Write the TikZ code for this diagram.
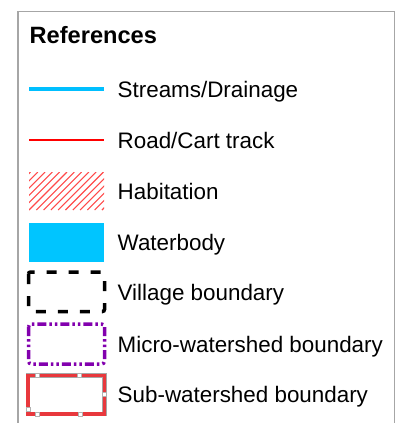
\documentclass[tikz,border=0pt]{standalone}
\usepackage{fontspec}
\setmainfont{Liberation Sans}
\definecolor{framegray}{HTML}{A6A6A6}
\definecolor{streamcol}{HTML}{00BFFF}
\definecolor{roadcol}{HTML}{FF0000}
\definecolor{hatchcol}{HTML}{FF4A4A}
\definecolor{watercol}{HTML}{00C5FF}
\definecolor{microcol}{HTML}{8200AE}
\definecolor{subcol}{HTML}{E8383D}
\begin{document}
\begin{tikzpicture}[x=1pt,y=-1pt,
  lbl/.style={anchor=base west,inner sep=0pt,font=\fontsize{22.4}{26}\selectfont},
  ttl/.style={anchor=base west,inner sep=0pt,font=\fontsize{23.6}{27}\selectfont\bfseries},
  gapmark/.style={fill=white,draw=gray!60,line width=0.4pt}]
\useasboundingbox (0,0) rectangle (403,423);
% frame
\draw[framegray,line width=1.5pt] (18,423) -- (18,11.7) -- (394.5,11.7) -- (394.5,423);
% title
\node[ttl] (title) at (29.5,43.3) {References};
% streams
\draw[streamcol,line width=3.2pt] (29,89) -- (104,89);
\node[lbl] (l1) at (117.5,97) {Streams/Drainage};
% road
\draw[roadcol,line width=2.6pt] (29,140) -- (104,140);
\node[lbl] (l2) at (117.5,148.3) {Road/Cart track};
% habitation hatch
\begin{scope}
  \clip (29,172) rectangle (104,210);
  \foreach \i in {-6,...,11}
    \draw[hatchcol,line width=1.1pt] (29+\i*7.3,210) -- ++(38,-38);
\end{scope}
\node[lbl] (l3) at (117.5,199) {Habitation};
% waterbody
\fill[watercol] (29,223) rectangle (104,261.5);
\node[lbl] (l4) at (117.5,250) {Waterbody};
% village boundary
\draw[black,line width=3.5pt,dash pattern=on 10pt off 12pt,rounded corners=2pt] (28.5,272) rectangle (104.5,311.5);
\node[lbl] (l5) at (117.5,300.5) {Village boundary};
% micro-watershed boundary
\draw[microcol,line width=3.5pt,dash pattern=on 9pt off 3pt on 2.5pt off 3pt on 2.5pt off 3pt,rounded corners=3pt] (28.5,324) rectangle (104.5,364);
\node[lbl] (l6) at (117.5,352) {Micro-watershed boundary};
% sub-watershed boundary
\draw[gray!70,line width=4.4pt] (28,375.5) rectangle (104.5,414);
\draw[subcol,line width=3.3pt] (28,375.5) rectangle (104.5,414);
\fill[gapmark] (35,373.6) rectangle (39.5,377.4);
\fill[gapmark] (77,373.6) rectangle (81.5,377.4);
\fill[gapmark] (35,412.1) rectangle (39.5,415.9);
\fill[gapmark] (78,412.1) rectangle (82.5,415.9);
\fill[gapmark] (102.6,392) rectangle (106.4,396.5);
\fill[gapmark] (26.1,407) rectangle (29.9,411.5);
\node[lbl] (l7) at (117.5,402.5) {Sub-watershed boundary};
\end{tikzpicture}
\end{document}
